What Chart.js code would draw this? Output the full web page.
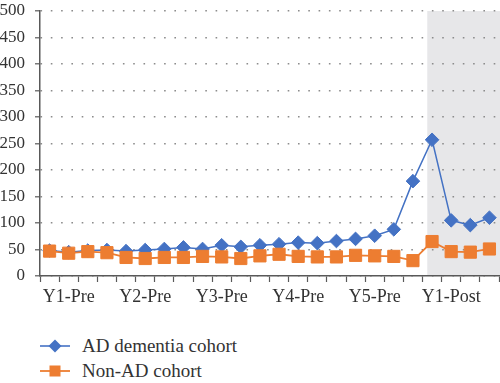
<!DOCTYPE html>
<html><head><meta charset="utf-8">
<script src="https://cdn.jsdelivr.net/npm/chart.js@4/dist/chart.umd.min.js"></script>
<style>
html,body{margin:0;padding:0;background:#fff;width:500px;height:383px;overflow:hidden;}
#wrap{position:absolute;left:0;top:0;width:500px;height:320px;}
#legend{position:absolute;left:40px;top:333px;font-family:"Liberation Serif","DejaVu Serif",serif;font-size:19px;color:#333;}
.item{display:flex;align-items:center;height:25px;white-space:nowrap;}
.item svg{margin-right:12px;display:block}
</style></head>
<body>
<div id="wrap"><canvas id="c" width="500" height="320"></canvas></div>
<div id="legend"></div>
<script>
// ---- data ----
const yearLabels = ['Y1-Pre','Y2-Pre','Y3-Pre','Y4-Pre','Y5-Pre','Y1-Post'];
const quarters = ['Q1','Q2','Q3','Q4'];
const categories = yearLabels.flatMap(y => quarters.map(q => y + ' ' + q));
const adValues    = [48,45,48,49,47,49,51,54,51,58,55,58,60,63,62,66,70,76,88,179,257,105,96,110];
const nonAdValues = [47,43,46,44,35,33,35,35,37,36,33,38,41,37,36,36,39,38,37,29,65,46,45,51];
const seriesNames = ['AD dementia cohort','Non-AD cohort'];
const yMin = 0, yMax = 500, yStep = 50;
const postShadeFrom = 19.75; // category position where the post period shading begins

const FONT = '"Liberation Serif","DejaVu Serif",serif';
const BLUE = '#4472C4', ORANGE = '#ED7D31';

const shadePlugin = {
  id: 'shade',
  beforeDraw(chart) {
    const {ctx, chartArea, scales: {x, y}} = chart;
    const x0 = x.getPixelForValue(postShadeFrom);
    const yTop = y.getPixelForValue(yMax), yBot = y.getPixelForValue(yMin);
    ctx.save();
    ctx.fillStyle = '#E7E7E9';
    ctx.fillRect(x0, yTop, chartArea.right - x0 + 1, yBot - yTop);
    ctx.restore();
  }
};

new Chart(document.getElementById('c'), {
  type: 'line',
  data: {
    labels: categories,
    datasets: [
      {label: seriesNames[0], data: adValues, borderColor: BLUE, backgroundColor: BLUE,
       pointStyle: 'rectRot', pointRadius: 6.8, pointBorderWidth: 1, borderWidth: 1.5, order: 2, tension: 0},
      {label: seriesNames[1], data: nonAdValues, borderColor: ORANGE, backgroundColor: ORANGE,
       pointStyle: 'rect', pointRadius: 8.6, pointBorderWidth: 1, borderWidth: 1.8, order: 1, tension: 0}
    ]
  },
  options: {
    responsive: false, animation: false, devicePixelRatio: 1,
    layout: {autoPadding: false, padding: {top: 11, right: 1, left: 0, bottom: 0}},
    plugins: {legend: {display: false}, tooltip: {enabled: false}},
    scales: {
      x: {
        type: 'category', offset: true,
        grid: {offset: true, drawOnChartArea: false, drawTicks: true, tickLength: 6, tickColor: '#595959', tickWidth: 1.2},
        border: {color: '#595959', width: 1.5},
        ticks: {autoSkip: false, maxRotation: 0, minRotation: 0, padding: 4, color: '#333',
          font: {family: FONT, size: 18},
          callback: (v, i) => (i % 4 === 1 ? yearLabels[Math.floor(i / 4)] : '')},
        afterFit(s) { s.height = 44; s.paddingLeft = 0; s.paddingRight = 0; }
      },
      y: {
        min: yMin, max: yMax,
        ticks: {stepSize: yStep, color: '#333', font: {family: FONT, size: 17}, padding: 10},
        grid: {color: '#8c8c8c', lineWidth: 1.6, tickLength: 5, tickColor: '#595959', tickWidth: 1.2, tickBorderDash: []},
        border: {color: '#595959', width: 1.5, dash: [1.6, 8.7]},
        afterFit(s) { s.width = 40; s.paddingTop = 0; s.paddingBottom = 0; }
      }
    }
  },
  plugins: [shadePlugin]
});

// legend (HTML, real text)
const lg = document.getElementById('legend');
const icons = [
  `<svg width="30" height="16"><line x1="0" y1="8" x2="30" y2="8" stroke="${BLUE}" stroke-width="1.6"/><polygon points="15,1.5 21.5,8 15,14.5 8.5,8" fill="${BLUE}"/></svg>`,
  `<svg width="30" height="16"><line x1="0" y1="8" x2="30" y2="8" stroke="${ORANGE}" stroke-width="1.8"/><rect x="9.5" y="2.5" width="11" height="11" fill="${ORANGE}"/></svg>`
];
seriesNames.forEach((n, i) => {
  const d = document.createElement('div');
  d.className = 'item';
  d.innerHTML = icons[i] + '<span>' + n + '</span>';
  lg.appendChild(d);
});
</script>
</body></html>
